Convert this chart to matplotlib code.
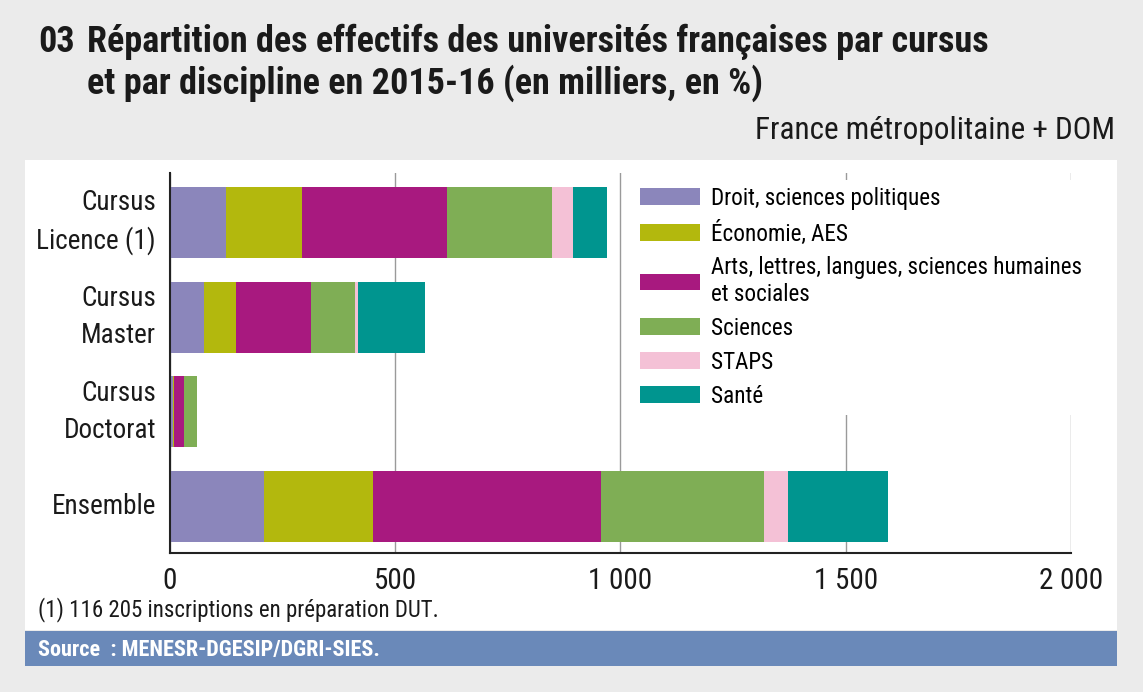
import matplotlib
matplotlib.use("Agg")
import matplotlib.pyplot as plt
from matplotlib.patches import Rectangle
from matplotlib.ticker import FuncFormatter

# --- data (thousands of students) ---
cursus = ["Cursus\nLicence (1)", "Cursus\nMaster", "Cursus\nDoctorat", "Ensemble"]
disciplines = [
    "Droit, sciences politiques",
    "Économie, AES",
    "Arts, lettres, langues, sciences humaines\net sociales",
    "Sciences",
    "STAPS",
    "Santé",
]
droit    = [124, 76, 6, 209]
economie = [169, 70, 3, 241]
lettres  = [322, 166, 21, 507]
sciences = [234, 98, 29, 361]
staps    = [46, 7, 0.5, 53]
sante    = [74, 148, 1.5, 223]
series = [droit, economie, lettres, sciences, staps, sante]

colors = ["#8b86bb", "#b3b80d", "#a8197f", "#7fae55", "#f4c1d6", "#00958f"]
BG = "#ebebeb"
SOURCE_BLUE = "#6a89b9"
INK = "#1a1a1a"

plt.rcParams["font.family"] = ["Roboto Condensed", "DejaVu Sans"]
plt.rcParams["font.stretch"] = "condensed"

W, H = 1143, 692
fig = plt.figure(figsize=(W / 100, H / 100), dpi=100, facecolor=BG)


def fx(px):
    return px / W


def fy(py):
    return 1 - py / H


# white panel and source band (behind the axes)
fig.patches.append(Rectangle((fx(25), fy(630)), fx(1117) - fx(25), fy(160) - fy(630),
                             transform=fig.transFigure, facecolor="white",
                             edgecolor="none", zorder=-2))
fig.patches.append(Rectangle((fx(25), fy(666)), fx(1117) - fx(25), fy(631) - fy(666),
                             transform=fig.transFigure, facecolor=SOURCE_BLUE,
                             edgecolor="none", zorder=-2))

ax = fig.add_axes([fx(170), fy(553), fx(1071) - fx(170), fy(173) - fy(553)])
ax.set_facecolor("none")

ypos = list(range(len(cursus)))
left = [0.0] * len(cursus)
handles = []
for vals, col, lab in zip(series, colors, disciplines):
    bars = ax.barh(ypos, vals, left=left, height=0.75, color=col,
                   edgecolor="none", label=lab, zorder=2)
    handles.append(bars)
    left = [a + b for a, b in zip(left, vals)]

ax.set_xlim(0, 2000)
ax.set_ylim(3.49, -0.52)
ax.set_xticks([0, 500, 1000, 1500, 2000])
ax.xaxis.set_major_formatter(FuncFormatter(lambda v, p: f"{int(v):,}".replace(",", " ")))
ax.set_yticks(ypos)
ax.set_yticklabels(cursus, fontsize=19.5, linespacing=1.45, va="center")
ax.tick_params(axis="x", length=0, labelsize=21, pad=10, colors=INK)
ax.tick_params(axis="y", length=0, pad=10, colors=INK)

ax.grid(axis="x", color="#9a9a9a", linewidth=1.0, zorder=1)
ax.set_axisbelow(True)
for s in ("top", "right"):
    ax.spines[s].set_visible(False)
for s in ("left", "bottom"):
    ax.spines[s].set_color("#222222")
    ax.spines[s].set_linewidth(1.5)

leg = ax.legend(handles=handles, labels=disciplines, loc="upper left",
                bbox_to_anchor=(fx(621), fy(168)), bbox_transform=fig.transFigure,
                fontsize=16.7, handlelength=2.59, handleheight=0.73,
                handletextpad=0.5, labelspacing=0.47, borderpad=0.3,
                frameon=True, fancybox=False, facecolor="white",
                edgecolor="none", framealpha=1.0)
leg.set_zorder(5)

# titles and notes
fig.text(fx(38), fy(52), "03", fontsize=26, fontweight="bold", color=INK)
fig.text(fx(87), fy(52), "Répartition des effectifs des universités françaises par cursus",
         fontsize=26, fontweight="bold", color=INK)
fig.text(fx(87), fy(94), "et par discipline en 2015-16 (en milliers, en %)",
         fontsize=26, fontweight="bold", color=INK)
fig.text(fx(1115), fy(139), "France métropolitaine + DOM", fontsize=22.5,
         ha="right", color=INK)
fig.text(fx(38), fy(616), "(1) 116 205 inscriptions en préparation DUT.",
         fontsize=16.5, color=INK)
fig.text(fx(38), fy(656), "Source  : MENESR-DGESIP/DGRI-SIES.", fontsize=16,
         fontweight="bold", color="white")

fig.savefig("out.png", dpi=100, facecolor=BG)
